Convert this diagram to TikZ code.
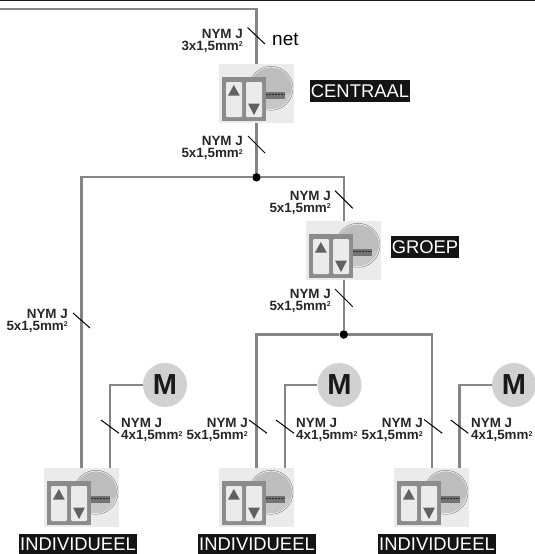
\documentclass[tikz,border=0pt]{standalone}
\usepackage{fontspec}
\setmainfont{Liberation Sans}
\definecolor{wire}{gray}{0.52}
\definecolor{boxbg}{gray}{0.92}
\definecolor{pan}{gray}{0.55}
\definecolor{disc}{gray}{0.74}
\definecolor{motor}{gray}{0.82}
\definecolor{tri}{gray}{0.38}
\tikzset{
  x=1pt,y=-1pt,
  wireline/.style={draw=wire,line width=2.2pt},
  tick/.style={draw=black,line width=1pt},
  cableL/.style={font=\fontsize{13.4}{12}\selectfont\bfseries,align=left,inner sep=0pt,anchor=north west,text=black!85},
  cableR/.style={font=\fontsize{13.4}{12}\selectfont\bfseries,align=right,inner sep=0pt,anchor=north east,text=black!85},
  tag/.style={fill=black!92,text=white,font=\fontsize{18.4}{18}\selectfont,inner xsep=0pt,inner ysep=0pt,minimum height=22pt,anchor=center},
  motornode/.style={circle,fill=motor,minimum size=44pt,inner sep=0pt,font=\fontsize{29}{29}\selectfont\bfseries,text=black!90},
  junction/.style={circle,fill=black,minimum size=8.5pt,inner sep=0pt},
  device/.pic={
    \node[fill=boxbg,minimum width=75pt,minimum height=59pt,inner sep=0pt,anchor=north west] (-box) at (0,0) {};
    \fill[white] (52,24.3) circle[radius=21.8];
    \begin{scope}
      \clip (52,24.3) circle[radius=21];
      \fill[disc] (30,0) rectangle (75,30);
      \fill[black!22] (30,30) rectangle (75,50);
      \fill[black!55] (47,27.5) rectangle (66,35);
      \draw[black!85,line width=0.9pt,dash pattern=on 2pt off 1pt] (47,30.5) -- (66,30.5);
    \end{scope}
    \draw[black!55,line width=0.4pt] (52,24.3) circle[radius=22];
    \fill[pan] (3,13) rectangle (47,57);
    \fill[boxbg,rounded corners=1.2pt] (7,18) rectangle (23,53);
    \fill[boxbg,rounded corners=1.2pt] (27,18) rectangle (43,53);
    \fill[tri] (9,31.5) -- (20.7,31.5) -- (14.85,21) -- cycle;
    \fill[tri] (29,39.5) -- (41,39.5) -- (35,51) -- cycle;
  }
}
\newcommand{\cab}[1]{NYM J\\#1x1,5mm\raisebox{3.5pt}{\fontsize{7}{7}\selectfont 2}}
\begin{document}
\begin{tikzpicture}
\useasboundingbox (0,0) rectangle (535,554);
\fill[black!90] (0,0) rectangle (535,1.2);
% devices
\pic (c) at (219,64) {device};
\pic (g) at (306,221) {device};
\pic (a) at (44,468) {device};
\pic (b) at (219,468) {device};
\pic (d) at (394,468) {device};
% motors and junctions
\node[motornode] (ma) at (165,385) {M};
\node[motornode] (mb) at (339.5,385) {M};
\node[motornode] (md) at (514,385) {M};
\node[junction] (j1) at (256.5,177.3) {};
\node[junction] (j2) at (343.8,334.5) {};
\coordinate (start) at (0,9);
\coordinate (corner) at (256.5,9);
% wires
\draw[wireline,line join=miter] (start) -- (corner) -- (corner |- c-box.north);
\draw[wireline] (corner |- c-box.south) -- (j1);
\draw[wireline] (j1) -- (81.5,177.3) -- (81.5,468);
\draw[wireline] (j1) -- (343.8,177.3) -- (343.8,221);
\draw[wireline] (343.8,280) -- (j2);
\draw[wireline] (j2) -- (256.5,334.5) -- (256.5,468);
\draw[wireline] (j2) -- (431.7,334.5) -- (431.7,468);
\draw[wireline] (ma) -- (110,385) -- (110,468);
\draw[wireline] (mb) -- (285,385) -- (285,468);
\draw[wireline] (md) -- (459.5,385) -- (459.5,468);
% ticks
\draw[tick] (247.5,27.5) -- (265,44);
\draw[tick] (248,136) -- (265,153);
\draw[tick] (335,190.7) -- (352.7,208.3);
\draw[tick] (335,289) -- (352.7,306.7);
\draw[tick] (73,313) -- (90,328);
\draw[tick] (101,420) -- (119,433.3);
\draw[tick] (249,420) -- (267,433.3);
\draw[tick] (276,420) -- (294,433.3);
\draw[tick] (424,419.5) -- (442.3,433.3);
\draw[tick] (450.7,420) -- (468.3,433.3);
% cable labels
\node[cableR] (l1) at (243,29) {\cab{3}};
\node[cableR] (l2) at (243,136.5) {\cab{5}};
\node[cableR] (l3) at (331,191) {\cab{5}};
\node[cableR] (l4) at (331,289) {\cab{5}};
\node[cableR] (l5) at (68,309) {\cab{5}};
\node[cableL] (l6) at (121,418.5) {\cab{4}};
\node[cableR] (l7) at (248,418.5) {\cab{5}};
\node[cableL] (l8) at (296,418.5) {\cab{4}};
\node[cableR] (l9) at (423,418.5) {\cab{5}};
\node[cableL] (l10) at (471,418.5) {\cab{4}};
% names
\node[font=\fontsize{19}{19}\selectfont,anchor=west,inner sep=0pt] (net) at (272,39) {net};
\node[tag,minimum width=100pt] (tc) at (360,91) {CENTRAAL};
\node[tag,minimum width=68pt] (tg) at (425,247) {GROEP};
\node[tag,minimum width=118pt,minimum height=20pt] (ta) at (78,544) {INDIVIDUEEL};
\node[tag,minimum width=118pt,minimum height=20pt] (tb) at (257,544) {INDIVIDUEEL};
\node[tag,minimum width=118pt,minimum height=20pt] (td) at (437,544) {INDIVIDUEEL};
\end{tikzpicture}
\end{document}
